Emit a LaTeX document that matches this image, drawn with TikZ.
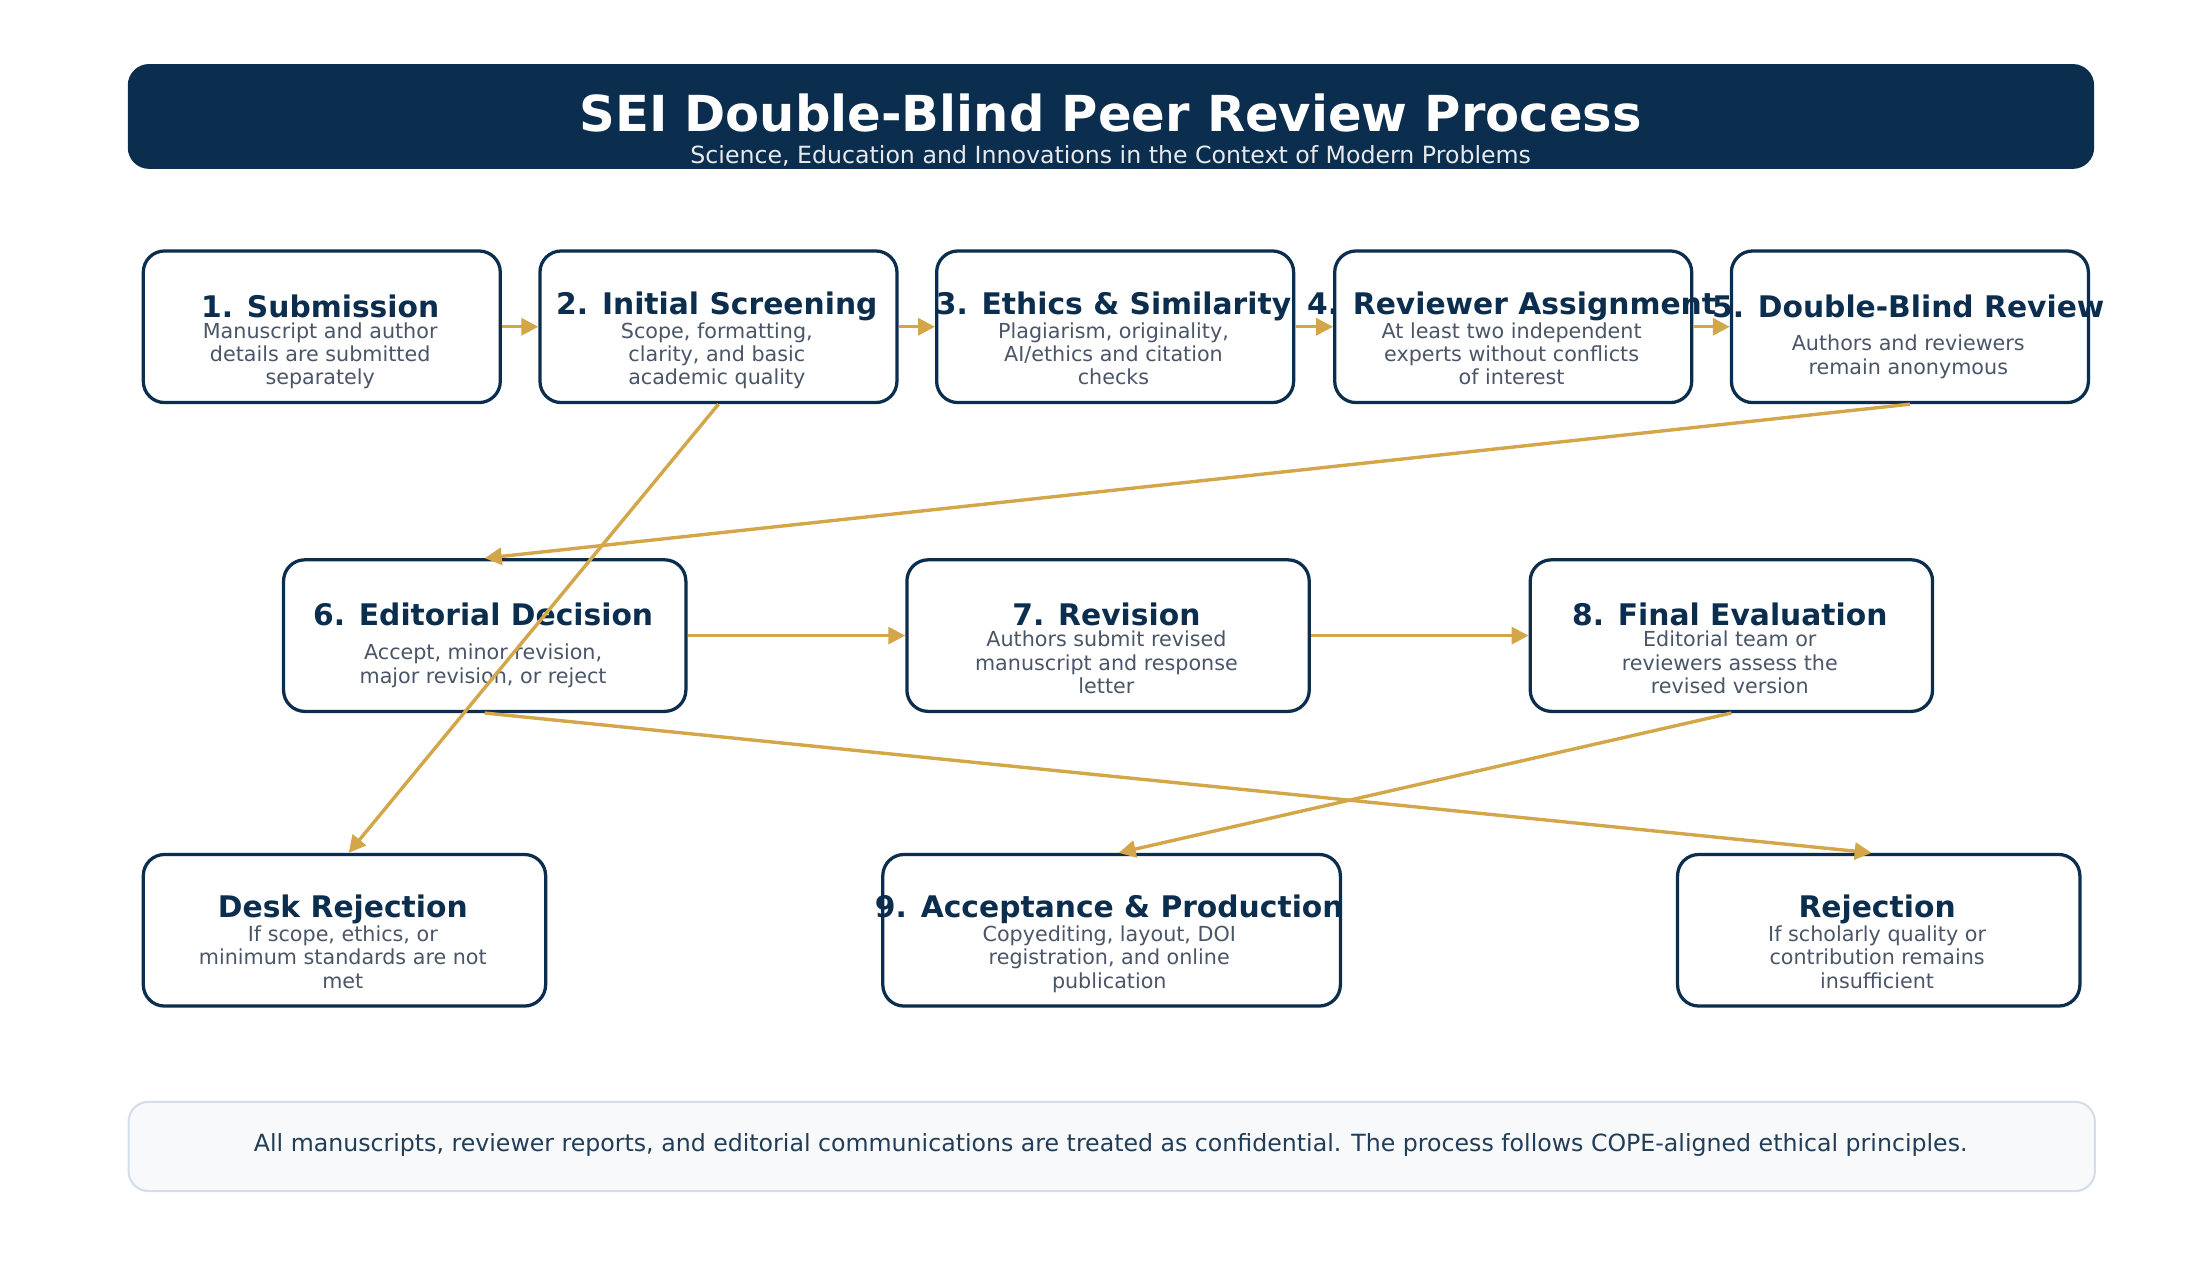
\documentclass[tikz,border=0pt]{standalone}
\usepackage{fontspec}
\setmainfont{DejaVu Sans}
\usetikzlibrary{arrows.meta}
\definecolor{navy}{HTML}{0B2D4E}
\definecolor{gold}{HTML}{D4A64A}
\definecolor{desc}{HTML}{4A5568}
\definecolor{foot}{HTML}{F7F9FB}
\definecolor{footb}{HTML}{D5DEE8}
\begin{document}
\begin{tikzpicture}[x=1pt,y=-1pt,
  box/.style={draw=navy,line width=2.3pt,rounded corners=15pt,fill=white,anchor=north west,inner sep=0},
  ttl/.style={text=navy,font=\fontsize{21}{24}\selectfont\bfseries},
  dsc/.style={text=desc,font=\fontsize{14.6}{16.5}\selectfont,align=center},
  arr/.style={draw=gold,line width=2.4pt,-{Triangle[length=12pt,width=12pt]}}]
\useasboundingbox (0,0) rectangle (1560,898);
\node[fill=navy,rounded corners=15pt,minimum width=1388pt,minimum height=74pt,anchor=north west,inner sep=0] (hdr) at (90,45) {};
\node[text=white,font=\fontsize{35}{40}\selectfont\bfseries] (t) at (784,80) {SEI Double-Blind Peer Review Process};
\node[text=white!90!navy,font=\fontsize{16.7}{19}\selectfont] (st) at (784,110) {Science, Education and Innovations in the Context of Modern Problems};
% row 1
\foreach \n/\x in {b1/100,b2/380,b3/660,b4/941,b5/1221}
  \node[box,minimum width=252pt,minimum height=107pt] (\n) at (\x,176) {};
\node[ttl] at (226,216) {1. Submission};
\node[dsc,anchor=north] at (226,224) {Manuscript and author\\details are submitted\\separately};
\node[ttl] at (506,216) {2. Initial Screening};
\node[dsc,anchor=north] at (506,224) {Scope, formatting,\\clarity, and basic\\academic quality};
\node[ttl] at (786,216) {3. Ethics \& Similarity};
\node[dsc,anchor=north] at (786,224) {Plagiarism, originality,\\AI/ethics and citation\\checks};
\node[ttl] at (1067,216) {4. Reviewer Assignment};
\node[dsc,anchor=north] at (1067,224) {At least two independent\\experts without conflicts\\of interest};
\node[ttl] at (1347,216) {5. Double-Blind Review};
\node[dsc,anchor=north] at (1347,233) {Authors and reviewers\\remain anonymous};
% row 2
\foreach \n/\x in {b6/199,b7/639,b8/1079}
  \node[box,minimum width=284pt,minimum height=107pt] (\n) at (\x,394) {};
\node[ttl] at (341,434) {6. Editorial Decision};
\node[dsc,anchor=north] at (341,451) {Accept, minor revision,\\major revision, or reject};
\node[ttl] at (781,434) {7. Revision};
\node[dsc,anchor=north] at (781,442) {Authors submit revised\\manuscript and response\\letter};
\node[ttl] at (1221,434) {8. Final Evaluation};
\node[dsc,anchor=north] at (1221,442) {Editorial team or\\reviewers assess the\\revised version};
% row 3
\node[box,minimum width=284pt,minimum height=107pt] (dr) at (100,602) {};
\node[box,minimum width=323pt,minimum height=107pt] (b9) at (622,602) {};
\node[box,minimum width=284pt,minimum height=107pt] (rj) at (1183,602) {};
\node[ttl] at (242,642) {Desk Rejection};
\node[dsc,anchor=north] at (242,650) {If scope, ethics, or\\minimum standards are not\\met};
\node[ttl] at (783,642) {9. Acceptance \& Production};
\node[dsc,anchor=north] at (783,650) {Copyediting, layout, DOI\\registration, and online\\publication};
\node[ttl] at (1325,642) {Rejection};
\node[dsc,anchor=north] at (1325,650) {If scholarly quality or\\contribution remains\\insufficient};
% footer
\node[fill=foot,draw=footb,line width=1.5pt,rounded corners=14pt,minimum width=1388pt,minimum height=63pt,anchor=north west,inner sep=0] (ft) at (90,777) {};
\node[text=navy!80!gray,font=\fontsize{16.7}{19}\selectfont] at (784,808) {All manuscripts, reviewer reports, and editorial communications are treated as confidential. The process follows COPE-aligned ethical principles.};
% arrows
\draw[arr] (b1.east) -- (b2.west);
\draw[arr] (b2.east) -- (b3.west);
\draw[arr] (b3.east) -- (b4.west);
\draw[arr] (b4.east) -- (b5.west);
\draw[arr] (b5.south) -- (b6.north);
\draw[arr] (b2.south) -- ([xshift=3pt]dr.north);
\draw[arr] (b6.east) -- (b7.west);
\draw[arr] (b7.east) -- (b8.west);
\draw[arr] (b8.south) -- ([xshift=5pt]b9.north);
\draw[arr] (b6.south) -- ([xshift=-5pt]rj.north);
\end{tikzpicture}
\end{document}
